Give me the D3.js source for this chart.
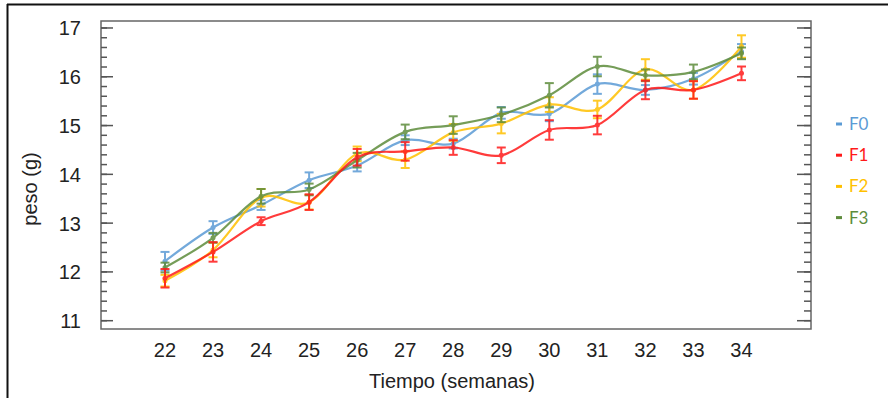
<!DOCTYPE html>
<html lang="es">
<head>
<meta charset="utf-8">
<title>Peso vs tiempo</title>
<style>
body { margin: 0; background: #fff; }
svg text { font-family: "Liberation Sans", Arial, sans-serif; fill: #222; }
.legend text { font-family: Lato, "Open Sans", sans-serif; }
</style>
</head>
<body>
<div id="chartID"></div>
<script src="https://d3js.org/d3.v7.min.js"></script>
<script>
// weeks and mean weight (g) per group, with error bar half-length
var weeks = [22, 23, 24, 25, 26, 27, 28, 29, 30, 31, 32, 33, 34];
var yTicks = [11, 12, 13, 14, 15, 16, 17];
var groups = ["F0", "F1", "F2", "F3"];
var colors = ["#5b9bd5", "#ff1a1a", "#ffc000", "#5e8c3c"];

var F0 = [12.22, 12.91, 13.37, 13.88, 14.18, 14.70, 14.63, 15.26, 15.24, 15.85, 15.73, 15.96, 16.52];
var F0err = [0.19, 0.13, 0.10, 0.16, 0.12, 0.10, 0.10, 0.12, 0.15, 0.20, 0.10, 0.12, 0.15];
var F1 = [11.87, 12.41, 13.04, 13.43, 14.35, 14.47, 14.55, 14.39, 14.91, 15.01, 15.73, 15.73, 16.07];
var F1err = [0.19, 0.20, 0.08, 0.16, 0.17, 0.19, 0.15, 0.16, 0.20, 0.19, 0.19, 0.18, 0.14];
var F2 = [11.82, 12.45, 13.52, 13.43, 14.42, 14.30, 14.86, 15.04, 15.43, 15.33, 16.15, 15.73, 16.62];
var F2err = [0.12, 0.15, 0.18, 0.15, 0.15, 0.17, 0.17, 0.20, 0.15, 0.18, 0.21, 0.18, 0.23];
var F3 = [12.09, 12.70, 13.55, 13.69, 14.29, 14.87, 15.01, 15.22, 15.62, 16.21, 16.03, 16.10, 16.48];
var F3err = [0.10, 0.10, 0.15, 0.12, 0.15, 0.15, 0.18, 0.15, 0.25, 0.20, 0.12, 0.15, 0.12];

var values = [F0, F1, F2, F3];
var errors = [F0err, F1err, F2err, F3err];

var svg = d3.select("#chartID")
    .append("svg").attr("width", 888).attr("height", 398);

// outer frame (only top and left edges show in the picture)
svg.append("line").attr("x1", 7).attr("x2", 888).attr("y1", 4.5).attr("y2", 4.5)
    .attr("stroke", "#111").attr("stroke-width", 2);
svg.append("line").attr("x1", 7.5).attr("x2", 7.5).attr("y1", 4).attr("y2", 398)
    .attr("stroke", "#111").attr("stroke-width", 2);

var plotL = 101, plotR = 811, plotT = 21, plotB = 329;

var x = d3.scaleLinear().domain([20.668, 35.447]).range([plotL, plotR]);
var y = d3.scaleLinear().domain([10.83, 17.143]).range([plotB, plotT]);

// plot box
svg.append("rect").attr("x", plotL).attr("y", plotT)
    .attr("width", plotR - plotL).attr("height", plotB - plotT)
    .attr("fill", "none").attr("stroke", "#666").attr("stroke-width", 1.5);

// y ticks: majors labelled, minors every 0.2, drawn inward on both sides
var minor = d3.range(11, 17.01, 0.2);
svg.selectAll(".yminL").data(minor).enter().append("line")
    .attr("x1", plotL).attr("x2", plotL + 6)
    .attr("y1", function(d) { return y(d); }).attr("y2", function(d) { return y(d); })
    .attr("stroke", "#555").attr("stroke-width", 1.5);
svg.selectAll(".yminR").data(minor).enter().append("line")
    .attr("x1", plotR).attr("x2", plotR - 7)
    .attr("y1", function(d) { return y(d); }).attr("y2", function(d) { return y(d); })
    .attr("stroke", "#555").attr("stroke-width", 1.5);
svg.selectAll(".ymajL").data(yTicks).enter().append("line")
    .attr("x1", plotL).attr("x2", plotL + 12)
    .attr("y1", function(d) { return y(d); }).attr("y2", function(d) { return y(d); })
    .attr("stroke", "#555").attr("stroke-width", 1.5);
svg.selectAll(".ymajR").data(yTicks).enter().append("line")
    .attr("x1", plotR).attr("x2", plotR - 14)
    .attr("y1", function(d) { return y(d); }).attr("y2", function(d) { return y(d); })
    .attr("stroke", "#555").attr("stroke-width", 1.5);

svg.selectAll(".ylab").data(yTicks).enter().append("text")
    .attr("x", 81)
    .attr("y", function(d) { return y(d) + 7.5; })
    .attr("text-anchor", "end")
    .style("font-size", "20px")
    .text(function(d) { return d; });

// x labels, no tick marks
svg.selectAll(".xlab").data(weeks).enter().append("text")
    .attr("x", function(d) { return x(d); })
    .attr("y", 357)
    .attr("text-anchor", "middle")
    .style("font-size", "20px")
    .text(function(d) { return d; });

svg.append("text").attr("x", 452).attr("y", 388)
    .attr("text-anchor", "middle").style("font-size", "20px")
    .text("Tiempo (semanas)");

svg.append("text")
    .attr("transform", "translate(37,189) rotate(-90)")
    .attr("text-anchor", "middle").style("font-size", "20px")
    .text("peso (g)");

// series: smoothed line, error bars, dots
var line = d3.line()
    .x(function(d, i) { return x(weeks[i]); })
    .y(function(d) { return y(d); })
    .curve(d3.curveCardinal.tension(0));

var order = [0, 2, 3, 1];
order.forEach(function(k) {
    var g = svg.append("g").attr("opacity", 0.85);
    var c = colors[k];
    g.append("path").datum(values[k])
        .attr("d", line).attr("fill", "none")
        .attr("stroke", c).attr("stroke-width", 2.2);

    var pts = values[k].map(function(v, i) { return { w: weeks[i], v: v, e: errors[k][i] }; });
    g.selectAll(".eb").data(pts).enter().append("line")
        .attr("x1", function(d) { return x(d.w); }).attr("x2", function(d) { return x(d.w); })
        .attr("y1", function(d) { return y(d.v + d.e); }).attr("y2", function(d) { return y(d.v - d.e); })
        .attr("stroke", c).attr("stroke-width", 2);
    g.selectAll(".capT").data(pts).enter().append("line")
        .attr("x1", function(d) { return x(d.w) - 4.5; }).attr("x2", function(d) { return x(d.w) + 4.5; })
        .attr("y1", function(d) { return y(d.v + d.e); }).attr("y2", function(d) { return y(d.v + d.e); })
        .attr("stroke", c).attr("stroke-width", 2);
    g.selectAll(".capB").data(pts).enter().append("line")
        .attr("x1", function(d) { return x(d.w) - 4.5; }).attr("x2", function(d) { return x(d.w) + 4.5; })
        .attr("y1", function(d) { return y(d.v - d.e); }).attr("y2", function(d) { return y(d.v - d.e); })
        .attr("stroke", c).attr("stroke-width", 2);
    g.selectAll(".dot").data(pts).enter().append("circle")
        .attr("cx", function(d) { return x(d.w); })
        .attr("cy", function(d) { return y(d.v); })
        .attr("r", 2.5).attr("fill", c);
});

// legend
var legend = svg.append("g").attr("class", "legend");
groups.forEach(function(name, i) {
    var ly = 124 + i * 31.2;
    legend.append("rect").attr("x", 836).attr("y", ly - 1.5)
        .attr("width", 6).attr("height", 3).attr("fill", colors[i]);
    legend.append("text").attr("x", 849).attr("y", ly + 6)
        .style("font-size", "17px").style("fill", colors[i])
        .text(name);
});
</script>
</body>
</html>
